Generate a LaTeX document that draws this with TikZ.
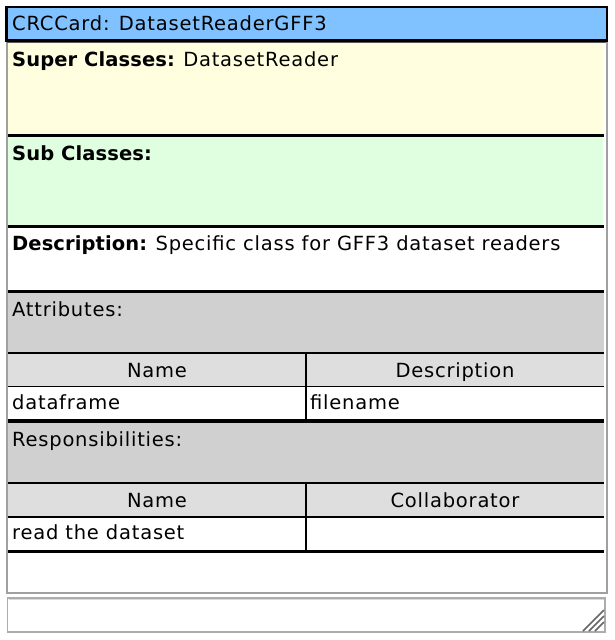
\documentclass[tikz,border=0pt]{standalone}
\usepackage{fontspec}
\setmainfont{DejaVu Sans}[LetterSpace=4, BoldFeatures={LetterSpace=0.5}]
\definecolor{titleblue}{RGB}{128,194,255}
\definecolor{superyellow}{RGB}{255,255,224}
\definecolor{subgreen}{RGB}{224,255,224}
\definecolor{secgray}{RGB}{208,208,208}
\definecolor{headgray}{RGB}{222,222,222}
\definecolor{framegray}{RGB}{160,160,160}
\definecolor{boxgray}{RGB}{172,172,172}
\begin{document}
\begin{tikzpicture}[x=1pt,y=-1pt,
  txt/.style={anchor=base west, inner sep=0pt, font=\fontsize{19.5}{22}\selectfont},
  ctxt/.style={anchor=base, inner sep=0pt, font=\fontsize{19.5}{22}\selectfont},
  thick sep/.style={line width=3.2pt, black},
  thin sep/.style={line width=1.8pt, black}]
\useasboundingbox (0,0) rectangle (614,640);
\fill[white] (0,0) rectangle (614,640);
% outer frame
\draw[framegray, line width=2pt] (7,42) rectangle (606.5,593);
% section fills
\fill[superyellow] (8,43) rectangle (603,134);
\fill[subgreen] (8,137) rectangle (603,225);
\fill[secgray] (8,293) rectangle (604,352);
\fill[headgray] (8,353) rectangle (604,386);
\fill[secgray] (8,423) rectangle (604,482);
\fill[headgray] (8,483) rectangle (604,516);
% separators
\draw[thick sep] (8,135.5) -- (604,135.5);
\draw[thick sep] (8,226.5) -- (604,226.5);
\draw[thick sep] (8,291.5) -- (604,291.5);
\draw[thin sep] (8,352.7) -- (604,352.7);
\draw[thin sep] (8,386.5) -- (604,386.5);
\draw[line width=3.6pt] (8,421) -- (604,421);
\draw[thin sep] (8,482.7) -- (604,482.7);
\draw[thin sep] (8,516.7) -- (604,516.7);
\draw[line width=3.6pt] (8,551.5) -- (604,551.5);
\draw[thin sep] (306,352.7) -- (306,421);
\draw[thin sep] (306,482.7) -- (306,551.5);
% title bar
\draw[black, line width=2.5pt, fill=titleblue] (6.5,7) rectangle (607,40.5);
\draw[gray!70!black, line width=1pt] (7,42.5) -- (606,42.5);
% texts
\node[txt] (title) at (12,30.5) {CRCCard: DatasetReaderGFF3};
\node[txt] (super) at (12,66.5) {\textbf{Super Classes:}\hspace{-1pt} DatasetReader};
\node[txt] (sub) at (12,160.5) {\textbf{Sub Classes:}};
\node[txt] (desc) at (12,250.5) {\textbf{Description:}\hspace{-1pt} Specific class for GFF3 dataset readers};
\node[txt] (attr) at (12,316.5) {Attributes:};
\node[ctxt] (aname) at (157,377.3) {Name};
\node[ctxt] (adesc) at (455,377.3) {Description};
\node[txt] (aval1) at (12,409.3) {dataframe};
\node[txt] (aval2) at (310,409.3) {filename};
\node[txt] (resp) at (12,446.7) {Responsibilities:};
\node[ctxt] (rname) at (157,507.3) {Name};
\node[ctxt] (rcoll) at (455,507.3) {Collaborator};
\node[txt] (rval1) at (12,539.3) {read the dataset};
% bottom text box
\draw[boxgray, line width=1.8pt] (7.5,598) rectangle (605,632);
\draw[white!85!black, line width=0.8pt] (9,599.5) -- (603.5,599.5);
\foreach \d in {0,6,12} {
  \draw[gray!80!black, line width=1.6pt] (583+\d,631) -- (604,610+\d);
}
\end{tikzpicture}
\end{document}
